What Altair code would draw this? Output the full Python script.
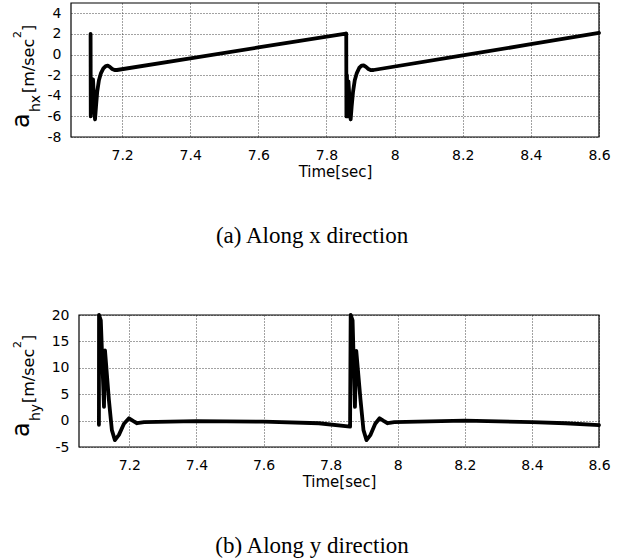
import altair as alt
import pandas as pd

# ---------------- data ----------------
hx_time = [7.1075, 7.1080, 7.1146, 7.1205, 7.1235, 7.1270, 7.1320, 7.1380, 7.1450,
           7.1520, 7.1580, 7.1640, 7.1710, 7.1780, 7.1850, 7.4000, 7.6000, 7.8570,
           7.8580, 7.8585, 7.8600, 7.8620, 7.8645, 7.8710, 7.8740, 7.8780, 7.8830,
           7.8890, 7.8960, 7.9030, 7.9090, 7.9160, 7.9230, 7.9310, 7.9380, 8.2000,
           8.4000, 8.6000]
hx_acc = [2.0, -6.0, -2.4, -6.3, -5.0, -3.6, -2.5, -1.8, -1.35,
          -1.12, -1.08, -1.2, -1.4, -1.5, -1.5, -0.37, 0.69, 2.02,
          2.05, -6.0, -2.0, -6.0, -2.6, -6.3, -5.0, -3.6, -2.5,
          -1.8, -1.3, -1.07, -1.05, -1.2, -1.4, -1.52, -1.5, -0.08,
          1.0, 2.1]

hy_time = [7.1094, 7.1097, 7.1150, 7.1245, 7.1275, 7.1390, 7.1480, 7.1570, 7.1690,
           7.1840, 7.1990, 7.2110, 7.2230, 7.2440, 7.4000, 7.6000, 7.7650, 7.8580,
           7.8598, 7.8655, 7.8725, 7.8765, 7.8890, 7.8980, 7.9070, 7.9190, 7.9330,
           7.9460, 7.9580, 7.9700, 7.9900, 8.2000, 8.4000, 8.5000, 8.6000]
hy_acc = [-0.8, 20.0, 19.0, 2.6, 13.3, 4.0, -1.8, -3.7, -2.7,
          -0.6, 0.45, -0.05, -0.5, -0.3, -0.1, -0.2, -0.5, -1.15,
          20.0, 19.0, 2.6, 13.2, 4.0, -1.8, -3.7, -2.7, -0.6,
          0.45, -0.05, -0.5, -0.3, 0.0, -0.3, -0.5, -0.85]

x_ticks = [7.2, 7.4, 7.6, 7.8, 8.0, 8.2, 8.4, 8.6]
x_domain = [7.05, 8.6]
hx_ticks = [-8, -6, -4, -2, 0, 2, 4]
hx_domain = [-8, 5]
hy_ticks = [-5, 0, 5, 10, 15, 20]
hy_domain = [-5, 20]
x_title = "Time[sec]"
captions = ["(a) Along x direction", "(b) Along y direction"]
hx_title = ["a", "hx", "[m/sec", "2", "]"]
hy_title = ["a", "hy", "[m/sec", "2", "]"]

# ---------------- layout constants ----------------
ORIGIN_X = 72
W = 528
TOP_Y = 3
BOT_Y = 315
title_sizes = [24, 14, 16, 11, 16]
title_x = [30, 41, 35, 22, 35]


def one(text=""):
    return pd.DataFrame({"s": [text]})


def panel(times, vals, ydomain, yticks, xoff, height, panel_top, pieces, pieces_y, caption, cap_y):
    df = pd.DataFrame({"t": times, "v": vals})
    xscale = alt.Scale(domain=x_domain, range=[xoff, W], nice=False, zero=False)
    yscale = alt.Scale(domain=ydomain, nice=False, zero=False)
    neg_expr = "datum.value < 0 ? '-' + (-datum.value) : '' + datum.value"
    line = alt.Chart(df).mark_line(
        color="black", strokeWidth=3.8, strokeJoin="round", strokeCap="round"
    ).encode(
        x=alt.X("t:Q", scale=xscale,
                axis=alt.Axis(values=x_ticks, title=x_title, labelExpr="'' + datum.value",
                              labelPadding=11, titlePadding=2, labelFlush=False)),
        y=alt.Y("v:Q", scale=yscale,
                axis=alt.Axis(values=yticks, title=None, labelExpr=neg_expr,
                              labelPadding=10, offset=-xoff, labelFlush=False)),
    )
    frame = alt.Chart(one()).mark_rect(
        fillOpacity=0, stroke="black", strokeWidth=1.2
    ).encode(x=alt.value(xoff), x2=alt.value(W), y=alt.value(0), y2=alt.value(height))

    layers = [line, frame]
    for txt, sx, sy, fs in zip(pieces, title_x, pieces_y, title_sizes):
        layers.append(
            alt.Chart(one(txt)).mark_text(
                angle=270, align="left", baseline="alphabetic",
                font="DejaVu Sans", fontSize=fs, color="black"
            ).encode(text="s:N", x=alt.value(sx - ORIGIN_X), y=alt.value(sy - panel_top))
        )
    layers.append(
        alt.Chart(one(caption)).mark_text(
            align="center", baseline="alphabetic",
            font="Liberation Serif", fontSize=23, color="black"
        ).encode(text="s:N", x=alt.value(313 - ORIGIN_X), y=alt.value(cap_y - panel_top))
    )
    return alt.layer(*layers).properties(width=W, height=height)


top = panel(hx_time, hx_acc, hx_domain, hx_ticks, 0, 134, TOP_Y,
            hx_title, [128, 112, 93, 38, 31], captions[0], 243)
bottom = panel(hy_time, hy_acc, hy_domain, hy_ticks, 8, 132, BOT_Y,
               hy_title, [437, 421, 403, 348, 341], captions[1], 553)

chart = alt.vconcat(top, bottom, spacing=60).properties(
    padding={"left": 10, "top": 2, "right": 0, "bottom": 0}
).configure_view(strokeWidth=0).configure_axis(
    labelFont="DejaVu Sans", labelFontSize=14, labelColor="black",
    titleFont="DejaVu Sans", titleFontSize=15, titleFontWeight="normal", titleColor="black",
    grid=True, gridColor="#444444", gridDash=[1, 2], gridWidth=1, gridOpacity=1,
    domain=False, ticks=False, tickSize=0
)

chart.save("out.html", embed_options={"renderer": "svg", "actions": False})
